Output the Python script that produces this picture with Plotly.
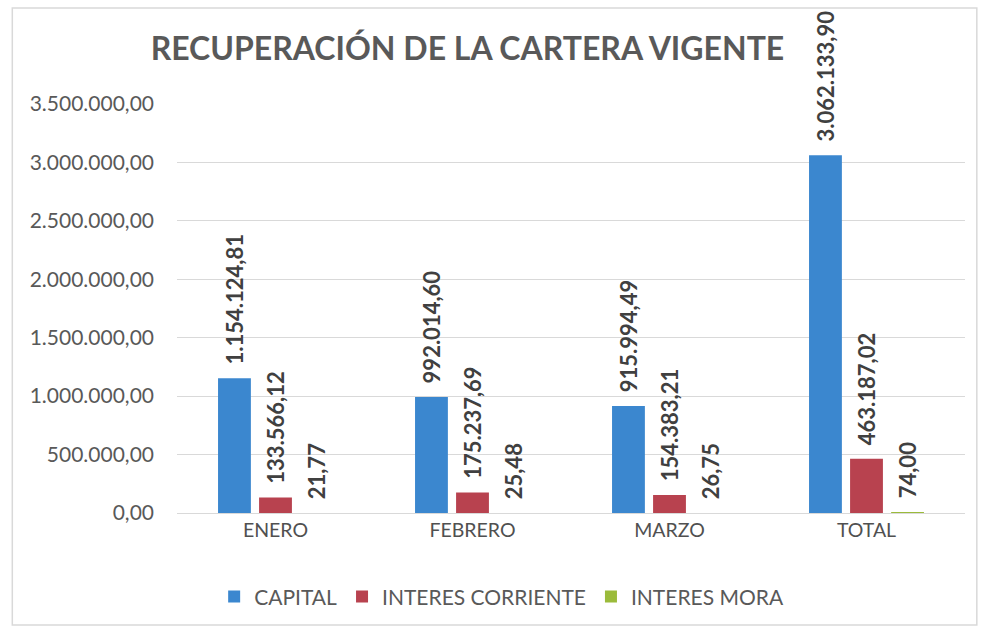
import plotly.graph_objects as go

categories = ["ENERO", "FEBRERO", "MARZO", "TOTAL"]
capital = [1154124.81, 992014.60, 915994.49, 3062133.90]
interes_corriente = [133566.12, 175237.69, 154383.21, 463187.02]
interes_mora = [21.77, 25.48, 26.75, 74.00]
series_names = ["CAPITAL", "INTERES CORRIENTE", "INTERES MORA"]
series_colors = ["#3B87CF", "#B8424F", "#9BBB3B"]
y_ticks = [0, 500000, 1000000, 1500000, 2000000, 2500000, 3000000, 3500000]

FONT = "Lato, 'Open Sans', sans-serif"
PAD = "\u00a0\u00a0"

fig = go.Figure()
for name, vals, col in zip(series_names, [capital, interes_corriente, interes_mora], series_colors):
    fig.add_trace(go.Bar(
        x=categories, y=vals, name=name,
        marker=dict(color=col, line=dict(width=0)),
        texttemplate=PAD + "%{y:,.2f}",
        textposition="outside",
        textangle=-90,
        constraintext="none",
        textfont=dict(family=FONT, size=22, color="#404040", weight="bold"),
        cliponaxis=False,
    ))

fig.update_layout(
    width=982, height=631,
    separators=",.",
    paper_bgcolor="white", plot_bgcolor="white",
    margin=dict(l=177, r=17, t=104, b=118),
    barmode="group", bargap=0.375, bargroupgap=0.2,
    title=dict(text="<b>RECUPERACIÓN DE LA CARTERA VIGENTE</b>",
               x=0.476, xanchor="center", y=0.922, yanchor="middle",
               font=dict(family=FONT, size=32, color="#595959")),
    uniformtext=dict(mode=False),
    legend=dict(orientation="h", x=0.412, xanchor="center", y=-0.205, yanchor="middle",
                font=dict(family=FONT, size=21, color="#595959"),
                itemwidth=30, traceorder="normal"),
    xaxis=dict(showline=True, linecolor="#D9D9D9", linewidth=1, ticks="",
               tickfont=dict(family=FONT, size=19.5, color="#505050")),
    yaxis=dict(range=[0, 3500000], tickvals=y_ticks, tickformat=",.2f",
               showgrid=True, gridcolor="#D9D9D9", gridwidth=1,
               zeroline=False, showline=False, ticks="",
               ticklabelstandoff=22,
               tickfont=dict(family=FONT, size=21, color="#595959")),
    shapes=[dict(type="rect", xref="paper", yref="paper",
                 x0=-0.209, x1=1.015, y0=-0.274, y1=1.235,
                 line=dict(color="#D9D9D9", width=1.5), fillcolor="rgba(0,0,0,0)",
                 layer="below")],
)

fig.write_html("out.html")
